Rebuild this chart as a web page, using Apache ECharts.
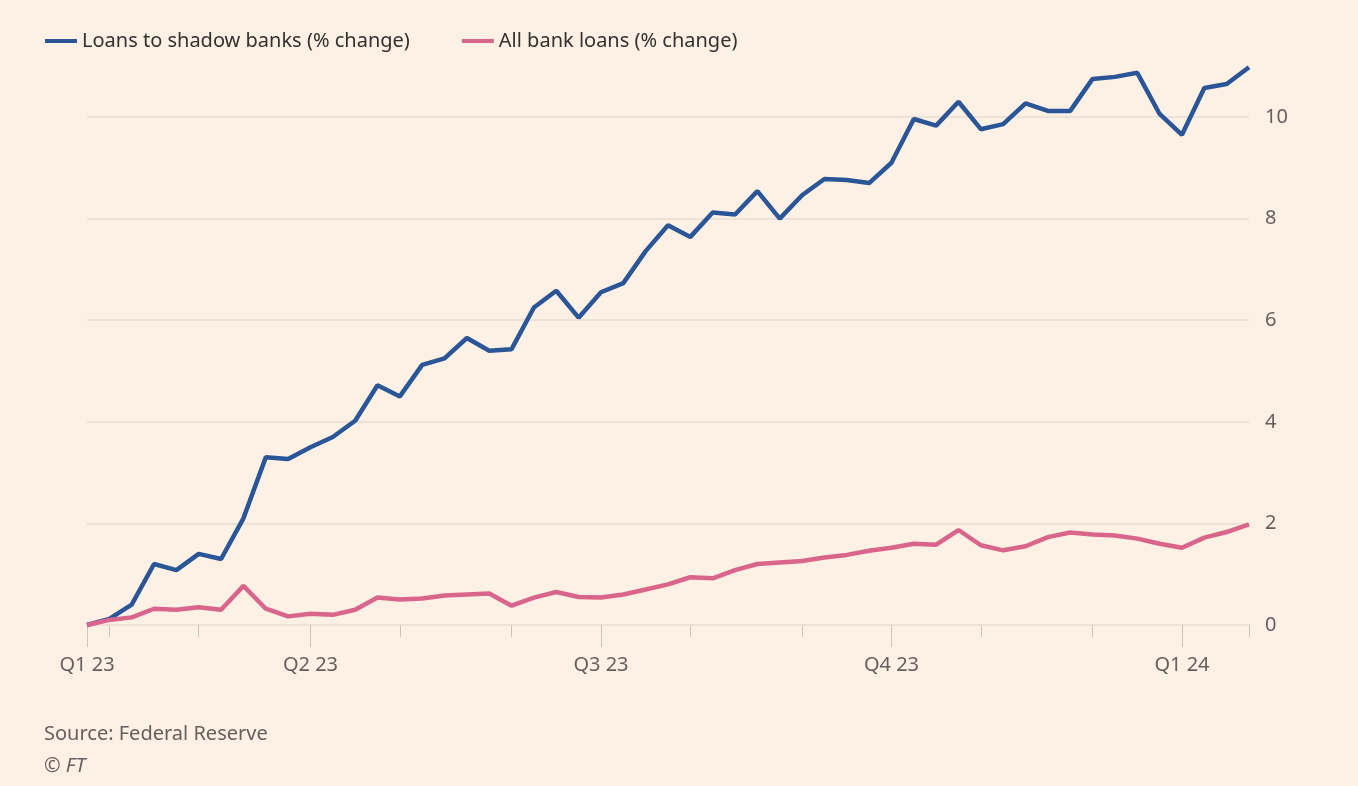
<!DOCTYPE html>
<html><head><meta charset="utf-8">
<script src="https://cdn.jsdelivr.net/npm/echarts@6/dist/echarts.min.js"></script>
<style>html,body{margin:0;padding:0;background:#fdf1e6;}#c{width:1358px;height:786px;}</style>
</head><body><div id="c"></div>
<script>
const weeks = Array.from({length:53},(_, i)=>'W'+i);
const shadow = [0,0.12,0.4,1.2,1.08,1.4,1.3,2.1,3.3,3.27,3.5,3.7,4.02,4.72,4.5,5.12,5.25,5.65,5.4,5.43,6.25,6.58,6.05,6.55,6.73,7.36,7.87,7.64,8.12,8.08,8.54,8.0,8.46,8.78,8.76,8.7,9.1,9.96,9.83,10.3,9.76,9.86,10.27,10.12,10.12,10.75,10.79,10.87,10.06,9.65,10.57,10.65,10.98];
const allLoans = [0,0.1,0.15,0.32,0.3,0.35,0.3,0.77,0.32,0.17,0.22,0.2,0.3,0.54,0.5,0.52,0.58,0.6,0.62,0.38,0.54,0.65,0.55,0.54,0.6,0.7,0.8,0.94,0.92,1.08,1.2,1.23,1.26,1.33,1.38,1.46,1.52,1.6,1.58,1.87,1.57,1.47,1.55,1.73,1.82,1.78,1.76,1.7,1.6,1.52,1.72,1.83,1.98];
const majorIdx = {0:'Q1 23',10:'Q2 23',23:'Q3 23',36:'Q4 23',49:'Q1 24'};
const minorIdx = [1,5,14,19,27,32,40,45,52];
const yTicks = [0,2,4,6,8,10];
const chart = echarts.init(document.getElementById('c'));
const F = '"Noto Sans", sans-serif';
chart.setOption({
  backgroundColor:'#fdf1e6',
  animation:false,
  grid:{left:87,right:109,top:117,bottom:161},
  legend:{left:40,top:26,itemWidth:32,itemHeight:4,itemGap:52,icon:'rect',
    textStyle:{fontFamily:F,fontSize:20,color:'#33302e'},
    data:['Loans to shadow banks (% change)','All bank loans (% change)']},
  xAxis:[
    {type:'category',data:weeks,boundaryGap:false,
     axisLine:{show:false},
     axisTick:{show:true,length:12,lineStyle:{color:'#cdc5bd',width:1},interval:(i)=>minorIdx.includes(i)},
     axisLabel:{show:false},splitLine:{show:false}},
    {type:'category',data:weeks,boundaryGap:false,position:'bottom',
     axisLine:{show:false},
     axisTick:{show:true,length:22,lineStyle:{color:'#cdc5bd',width:1},interval:(i)=>majorIdx[i]!==undefined},
     axisLabel:{show:true,interval:(i)=>majorIdx[i]!==undefined,formatter:(v,i)=>majorIdx[i]||'',
       margin:30,fontFamily:F,fontSize:20,color:'#66605c'},
     splitLine:{show:false}}
  ],
  yAxis:{type:'value',position:'right',min:0,max:10,interval:2,
    axisLine:{show:false},axisTick:{show:false},
    axisLabel:{margin:16,fontFamily:F,fontSize:20,color:'#66605c',formatter:(v)=>yTicks.includes(v)?String(v):''},
    splitLine:{lineStyle:{color:'#e8ddd3',width:1.5}}},
  series:[
    {name:'Loans to shadow banks (% change)',type:'line',data:shadow,symbol:'none',clip:false,
     lineStyle:{color:'#2a5596',width:4.5},itemStyle:{color:'#2a5596'}},
    {name:'All bank loans (% change)',type:'line',data:allLoans,symbol:'none',clip:false,
     lineStyle:{color:'#d9658a',width:4.5},itemStyle:{color:'#d9658a'}}
  ],
  graphic:[
    {type:'text',left:44,top:724,style:{text:'Source: Federal Reserve',font:'20px '+F,fill:'#66605c'}},
    {type:'text',left:44,top:756,style:{text:'© FT',font:'italic 20px '+F,fill:'#66605c'}}
  ]
});
</script></body></html>
